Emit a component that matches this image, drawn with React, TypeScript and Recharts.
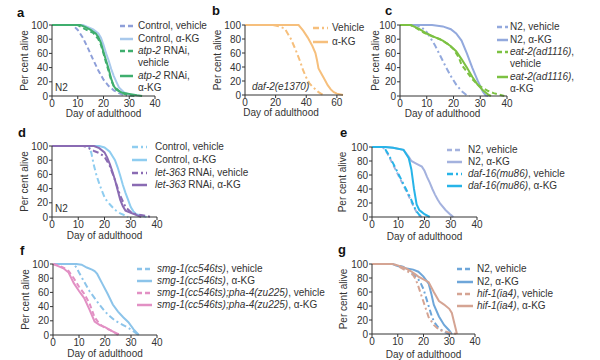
import type { ReactNode } from "react";
import { Line, LineChart, XAxis, YAxis } from "recharts";

type Pt = [number, number]; // [day of adulthood, per cent alive]

// a: N2, atp-2 RNAi
const aCtrlVeh: Pt[] = [[0, 100], [8, 100], [10, 93], [12, 82], [14, 67], [16, 51], [18, 36], [20, 23], [22, 14], [24, 8], [26, 4], [28, 1], [29, 0]];
const aCtrlAkg: Pt[] = [[0, 100], [12, 100], [14, 97], [16, 94], [18, 88], [19, 82], [20, 72], [21, 60], [22, 50], [23, 38], [24, 28], [25, 20], [26, 12], [28, 5], [30, 2], [31, 0]];
const aAtpVeh: Pt[] = [[0, 100], [10, 100], [12, 96], [14, 92], [16, 89], [18, 80], [19, 72], [20, 60], [21, 47], [22, 35], [23, 22], [24, 14], [26, 7], [28, 3], [30, 1], [32, 0]];
const aAtpAkg: Pt[] = [[0, 100], [11, 100], [13, 97], [15, 93], [17, 88], [18, 83], [19, 75], [20, 62], [21, 50], [22, 38], [23, 24], [24, 14], [25, 9], [27, 5], [30, 3], [33, 1], [35, 0]];

// b: daf-2(e1370)
const bVeh: Pt[] = [[0, 100], [18, 100], [22, 98], [26, 95], [30, 80], [33, 65], [36, 48], [38, 35], [40, 25], [42, 17], [44, 12], [46, 8], [48, 4], [51, 0]];
const bAkg: Pt[] = [[0, 100], [35, 100], [38, 92], [41, 82], [44, 70], [46, 60], [47, 50], [48, 38], [50, 30], [52, 22], [54, 14], [56, 8], [58, 4], [60, 2], [64, 0]];

// c: N2, eat-2(ad1116)
const cN2Veh: Pt[] = [[0, 100], [6, 100], [8, 97], [10, 90], [11, 84], [13, 72], [15, 57], [17, 42], [19, 28], [21, 16], [23, 7], [25, 1], [26, 0]];
const cN2Akg: Pt[] = [[0, 100], [12, 100], [16, 98], [19, 94], [21, 88], [23, 78], [25, 60], [27, 40], [29, 22], [31, 6], [32, 1], [33, 0]];
const cEatVeh: Pt[] = [[0, 100], [4, 100], [6, 96], [9, 89], [12, 84], [15, 80], [18, 73], [20, 66], [22, 54], [23, 44], [25, 34], [27, 24], [29, 16], [31, 11], [33, 7], [35, 4], [37, 2], [39, 0]];
const cEatAkg: Pt[] = [[0, 100], [4, 100], [7, 95], [10, 88], [13, 83], [16, 78], [19, 70], [21, 63], [23, 52], [25, 40], [27, 27], [29, 16], [31, 8], [33, 2], [34, 0]];

// d: N2, let-363 RNAi
const dCtrlVeh: Pt[] = [[0, 100], [14, 100], [15, 90], [16, 72], [17, 58], [18, 47], [19, 37], [20, 28], [21, 22], [22, 18], [24, 10], [26, 5], [28, 2], [29, 0]];
const dCtrlAkg: Pt[] = [[0, 100], [18, 100], [20, 98], [22, 92], [24, 80], [25, 70], [26, 58], [27, 45], [28, 34], [29, 24], [30, 14], [31, 8], [32, 4], [34, 2], [36, 0]];
const dLetVeh: Pt[] = [[0, 100], [12, 100], [14, 97], [16, 93], [18, 90], [20, 85], [22, 72], [24, 52], [26, 30], [28, 14], [30, 7], [32, 4], [35, 2], [38, 0]];
const dLetAkg: Pt[] = [[0, 100], [16, 100], [18, 97], [20, 91], [21, 84], [22, 75], [23, 64], [24, 52], [25, 38], [26, 24], [27, 15], [28, 9], [30, 6], [32, 3], [34, 0]];

// e: N2, daf-16(mu86)
const eN2Veh: Pt[] = [[0, 100], [4, 100], [5, 96], [6, 90], [8, 75], [10, 60], [12, 45], [14, 30], [16, 14], [17, 7], [18, 2], [19, 0]];
const eN2Akg: Pt[] = [[0, 100], [5, 100], [8, 99], [12, 96], [14, 86], [15, 80], [17, 76], [19, 72], [20, 66], [21, 57], [22, 49], [23, 40], [24, 32], [25, 25], [26, 19], [28, 10], [30, 3], [31, 0]];
const eDafVeh: Pt[] = [[0, 100], [4, 100], [5, 97], [6, 91], [8, 77], [10, 62], [12, 47], [14, 32], [15, 24], [16, 15], [17, 8], [18, 3], [19, 0]];
const eDafAkg: Pt[] = [[0, 100], [5, 100], [8, 99], [12, 96], [14, 84], [15, 68], [16, 40], [17, 18], [18, 10], [19, 7], [20, 4], [22, 0]];

// f: smg-1(cc546ts), pha-4(zu225)
const fSmgVeh: Pt[] = [[0, 100], [8, 100], [9, 95], [10, 88], [12, 75], [14, 62], [16, 52], [18, 42], [20, 33], [22, 26], [24, 20], [27, 14], [29, 10], [31, 5], [33, 0]];
const fSmgAkg: Pt[] = [[0, 100], [9, 100], [11, 99], [13, 95], [15, 92], [16, 90], [17, 86], [19, 72], [21, 58], [23, 43], [25, 33], [27, 25], [29, 18], [31, 8], [33, 0]];
const fPhaVeh: Pt[] = [[0, 100], [2, 98], [4, 95], [6, 90], [8, 80], [10, 68], [12, 58], [14, 45], [16, 25], [18, 15], [20, 10], [22, 7], [24, 3], [26, 0]];
const fPhaAkg: Pt[] = [[0, 100], [2, 97], [4, 94], [6, 88], [8, 73], [10, 62], [12, 52], [14, 36], [16, 19], [18, 14], [20, 11], [22, 7], [24, 3], [25, 0]];

// g: N2, hif-1(ia4)
const gN2Veh: Pt[] = [[0, 100], [8, 100], [10, 98], [12, 96], [14, 92], [16, 86], [18, 78], [19, 72], [20, 64], [21, 52], [22, 40], [23, 28], [24, 18], [26, 8], [28, 3], [30, 0]];
const gN2Akg: Pt[] = [[0, 100], [8, 100], [10, 97], [13, 94], [16, 92], [18, 89], [20, 82], [22, 72], [23, 58], [24, 42], [26, 25], [28, 13], [30, 5], [31, 0]];
const gHifVeh: Pt[] = [[0, 100], [8, 100], [10, 97], [12, 93], [14, 89], [16, 84], [17, 78], [18, 68], [19, 57], [20, 46], [21, 35], [22, 24], [24, 13], [26, 6], [28, 4], [30, 2], [33, 0]];
const gHifAkg: Pt[] = [[0, 100], [8, 100], [10, 98], [13, 94], [15, 90], [17, 85], [18, 82], [20, 78], [22, 74], [24, 60], [26, 47], [28, 42], [30, 36], [31, 30], [32, 15], [33, 0]];

const yTicks = [0, 20, 40, 60, 80, 100];
const xTicks40 = [0, 10, 20, 30, 40];
const xTicks60 = [0, 20, 40, 60];

const INK = "#333";
const DASH = "5 3";
const DASHDOT = "6 3 2 3";

type Series = { data: Pt[]; color: string; dash?: string };
type Row = { y: number; text: ReactNode; color?: string; dash?: string };

const rows = (pts: Pt[]) => pts.map(([day, pct]) => ({ day, pct }));

function Legend({ sx, sw, tx, items }: { sx: number; sw: number; tx: number; items: Row[] }) {
  return <>{items.map((r, i) => <div key={i} style={{ position: "absolute", left: sx, top: r.y - 6, height: 12, display: "flex", alignItems: "center", whiteSpace: "nowrap", fontSize: 10, lineHeight: "12px" }}>
    <svg width={tx - sx} height={12} style={{ flex: "none" }}>
      {r.color && <line x1={0} y1={6} x2={sw} y2={6} stroke={r.color} strokeWidth={2.5} strokeDasharray={r.dash} />}
    </svg>
    <span>{r.text}</span>
  </div>)}</>;
}

function Panel({ letter, lx, ly, x, y, w, h, xMax = 40, xTicks = xTicks40, series, xlDx = 0, xlOff = 6, ylOff = 12 }: {
  letter: string; lx: number; ly: number; x: number; y: number; w: number; h: number; xMax?: number; xTicks?: number[];
  series: Series[]; xlDx?: number; xlOff?: number; ylOff?: number;
}) {
  const yw = 40, mt = 5, xh = 28, mr = 8;
  return <>
    <div style={{ position: "absolute", left: lx, top: ly - 11, fontSize: 13, lineHeight: "13px", fontWeight: 700, color: "#111" }}>{letter}</div>
    <div style={{ position: "absolute", left: x - yw, top: y - mt }}>
      <LineChart width={yw + w + mr} height={mt + h + xh} margin={{ top: mt, right: mr, bottom: 0, left: 0 }}>
        <XAxis type="number" dataKey="day" domain={[0, xMax]} ticks={xTicks} interval={0} height={xh} tickSize={3} tickMargin={1} stroke={INK}
          tick={{ fill: INK, fontSize: 10 }} label={{ value: "Day of adulthood", position: "insideBottom", offset: xlOff, dx: xlDx, fill: INK, fontSize: 10 }} />
        <YAxis type="number" domain={[0, 100]} ticks={yTicks} interval={0} width={yw} tickSize={3} tickMargin={1} stroke={INK}
          tick={{ fill: INK, fontSize: 10 }} label={{ value: "Per cent alive", angle: -90, position: "insideLeft", offset: ylOff, fill: INK, fontSize: 10, style: { textAnchor: "middle" } }} />
        {series.map((s, i) => <Line key={i} type="linear" data={rows(s.data)} dataKey="pct" stroke={s.color} strokeWidth={2}
          strokeDasharray={s.dash} dot={false} activeDot={false} isAnimationActive={false} />)}
      </LineChart>
    </div>
  </>;
}

const note = (left: number, base: number, text: ReactNode) =>
  <div style={{ position: "absolute", left, top: base - 8.5, fontSize: 10, lineHeight: "10px", whiteSpace: "nowrap" }}>{text}</div>;

export default function App() {
  const A1 = "#8e9fd9", A2 = "#a9c9ec", AG = "#3fae6e";
  const B = "#f6bf7c";
  const C1 = "#93a9dd", CG = "#7cc142";
  const D1 = "#8fcdf0", DP = "#8a6bb3";
  const E1 = "#a4b2de", EC = "#27b4e8";
  const F1 = "#8cc4ea", FP = "#e290c4";
  const G1 = "#6ea6d9", GT = "#d5a493";
  return <div style={{ position: "absolute", left: 0, top: 0, width: 600, height: 360, background: "#fff", overflow: "hidden", fontFamily: "'Liberation Sans', Arial, sans-serif", color: INK }}>
    <Panel letter="a" lx={17} ly={16.5} x={52} y={25} w={103} h={71} xlOff={7}
      series={[{ data: aCtrlVeh, color: A1, dash: DASH }, { data: aCtrlAkg, color: A2 }, { data: aAtpVeh, color: AG, dash: DASH }, { data: aAtpAkg, color: AG }]} />
    {note(55, 91, "N2")}
    <Legend sx={120} sw={13} tx={138} items={[
      { y: 26, text: "Control, vehicle", color: A1, dash: DASH },
      { y: 38.5, text: "Control, α-KG", color: A2 },
      { y: 51, text: <><i>atp-2</i> RNAi,</>, color: AG, dash: DASH },
      { y: 63, text: "vehicle" },
      { y: 75.5, text: <><i>atp-2</i> RNAi,</>, color: AG },
      { y: 88, text: "α-KG" },
    ]} />

    <Panel letter="b" lx={212} ly={15} x={245} y={25} w={98} h={70} xMax={64} xTicks={xTicks60} xlDx={-13} xlOff={7}
      series={[{ data: bVeh, color: B, dash: DASHDOT }, { data: bAkg, color: B }]} />
    {note(252, 90, <i>daf-2(e1370)</i>)}
    <Legend sx={313} sw={15} tx={332} items={[
      { y: 28, text: "Vehicle", color: B, dash: DASHDOT },
      { y: 42, text: "α-KG", color: B },
    ]} />

    <Panel letter="c" lx={385} ly={15} x={400} y={25} w={107} h={71} xlDx={-11} xlOff={7} ylOff={15.5}
      series={[{ data: cN2Veh, color: C1, dash: DASHDOT }, { data: cN2Akg, color: C1 }, { data: cEatVeh, color: CG, dash: DASH }, { data: cEatAkg, color: CG }]} />
    <Legend sx={497} sw={11} tx={510} items={[
      { y: 27, text: "N2, vehicle", color: C1, dash: DASH },
      { y: 40, text: "N2, α-KG", color: C1 },
      { y: 52, text: <><i>eat-2(ad1116)</i>,</>, color: CG, dash: DASH },
      { y: 64, text: "vehicle" },
      { y: 77, text: <><i>eat-2(ad1116)</i>,</>, color: CG },
      { y: 89, text: "α-KG" },
    ]} />

    <Panel letter="d" lx={18} ly={137} x={52} y={146} w={105} h={71}
      series={[{ data: dCtrlVeh, color: D1, dash: DASHDOT }, { data: dCtrlAkg, color: D1 }, { data: dLetVeh, color: DP, dash: DASHDOT }, { data: dLetAkg, color: DP }]} />
    {note(55, 212, "N2")}
    <Legend sx={132} sw={15} tx={155} items={[
      { y: 147, text: "Control, vehicle", color: D1, dash: DASHDOT },
      { y: 160, text: "Control, α-KG", color: D1 },
      { y: 172.5, text: <><i>let-363</i> RNAi, vehicle</>, color: DP, dash: DASHDOT },
      { y: 185, text: <><i>let-363</i> RNAi, α-KG</>, color: DP },
    ]} />

    <Panel letter="e" lx={340} ly={137} x={372} y={147} w={105} h={70} xlOff={5} ylOff={10.5}
      series={[{ data: eN2Veh, color: E1, dash: DASH }, { data: eN2Akg, color: E1 }, { data: eDafVeh, color: EC, dash: DASHDOT }, { data: eDafAkg, color: EC }]} />
    <Legend sx={447} sw={15} tx={468} items={[
      { y: 150, text: "N2, vehicle", color: E1, dash: DASH },
      { y: 162, text: "N2, α-KG", color: E1 },
      { y: 174, text: <><i>daf-16(mu86)</i>, vehicle</>, color: EC, dash: DASHDOT },
      { y: 185.5, text: <><i>daf-16(mu86)</i>, α-KG</>, color: EC },
    ]} />

    <Panel letter="f" lx={20} ly={255} x={53} y={264} w={104} h={71}
      series={[{ data: fSmgVeh, color: F1, dash: DASHDOT }, { data: fSmgAkg, color: F1 }, { data: fPhaVeh, color: FP, dash: DASH }, { data: fPhaAkg, color: FP }]} />
    <Legend sx={137} sw={15} tx={157} items={[
      { y: 269, text: <><i>smg-1(cc546ts)</i>, vehicle</>, color: F1, dash: DASH },
      { y: 281, text: <><i>smg-1(cc546ts)</i>, α-KG</>, color: F1 },
      { y: 293, text: <><i>smg-1(cc546ts);pha-4(zu225)</i>, vehicle</>, color: FP, dash: DASH },
      { y: 305, text: <><i>smg-1(cc546ts);pha-4(zu225)</i>, α-KG</>, color: FP },
    ]} />

    <Panel letter="g" lx={338} ly={254} x={372} y={264} w={103} h={70} xlOff={4.5} ylOff={11.5}
      series={[{ data: gN2Veh, color: G1, dash: DASHDOT }, { data: gN2Akg, color: G1 }, { data: gHifVeh, color: GT, dash: DASHDOT }, { data: gHifAkg, color: GT }]} />
    <Legend sx={457} sw={16} tx={477} items={[
      { y: 269, text: "N2, vehicle", color: G1, dash: DASH },
      { y: 282, text: "N2, α-KG", color: G1 },
      { y: 294, text: <><i>hif-1(ia4)</i>, vehicle</>, color: GT, dash: DASH },
      { y: 306, text: <><i>hif-1(ia4)</i>, α-KG</>, color: GT },
    ]} />
  </div>;
}
